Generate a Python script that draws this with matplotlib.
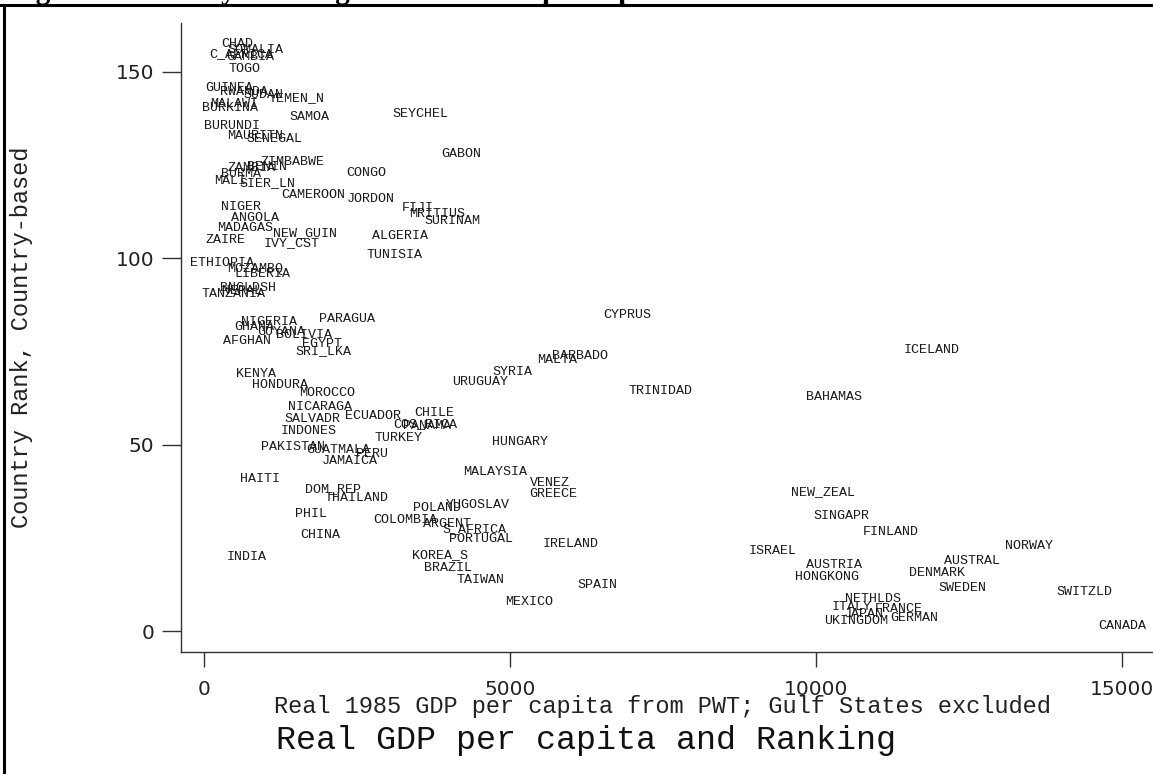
import matplotlib
matplotlib.use("Agg")
import matplotlib.pyplot as plt
from matplotlib.lines import Line2D

# country labels, real 1985 GDP per capita, country rank
countries = [
    "CHAD", "SOMALIA", "C_AFRICA", "GAMBIA", "TOGO", "GUINEA", "RWANDA", "SUDAN",
    "YEMEN_N", "MALAWI", "BURKINA", "SAMOA", "SEYCHEL", "BURUNDI", "MAURITN",
    "SENEGAL", "ZIMBABWE", "BENIN", "ZAMBIA", "BURMA", "MALI", "SIER_LN", "CONGO",
    "GABON", "CAMEROON", "JORDON", "FIJI", "MRITIUS", "SURINAM", "NIGER", "ANGOLA",
    "MADAGAS", "NEW_GUIN", "ZAIRE", "IVY_CST", "ALGERIA", "TUNISIA", "ETHIOPIA",
    "MOZAMBQ", "LIBERIA", "BNGLDSH", "NEPAL", "TANZANIA", "NIGERIA", "PARAGUA",
    "GHANA", "GUYANA", "BOLIVIA", "AFGHAN", "EGYPT", "SRI_LKA", "KENYA", "HONDURA",
    "MOROCCO", "SYRIA", "URUGUAY", "MALTA", "BARBADO", "CYPRUS", "TRINIDAD",
    "ICELAND", "BAHAMAS", "NICARAGA", "SALVADR", "ECUADOR", "CHILE", "COS_RICA",
    "PANAMA", "INDONES", "TURKEY", "PAKISTAN", "GUATMALA", "PERU", "JAMAICA",
    "HAITI", "DOM_REP", "THAILAND", "PHIL", "COLOMBIA", "CHINA", "INDIA", "POLAND",
    "YUGOSLAV", "ARGENT", "S_AFRICA", "PORTUGAL", "KOREA_S", "BRAZIL", "TAIWAN",
    "MEXICO", "SPAIN", "IRELAND", "HUNGARY", "MALAYSIA", "VENEZ", "GREECE",
    "NEW_ZEAL", "SINGAPR", "FINLAND", "ISRAEL", "NORWAY", "AUSTRAL", "AUSTRIA",
    "HONGKONG", "DENMARK", "SWEDEN", "SWITZLD", "NETHLDS", "ITALY", "FRANCE",
    "JAPAN", "GERMAN", "UKINGDOM", "CANADA",
]
gdp = [
    539, 833, 605, 752, 670, 409, 654, 964,
    1520, 490, 425, 1716, 3529, 458, 833,
    1144, 1438, 1029, 768, 605, 425, 1029, 2647,
    4199, 1781, 2729, 3497, 3807, 4052, 605, 833,
    670, 1650, 359, 1438, 3203, 3105, 294,
    833, 948, 719, 621, 474, 1062, 2337,
    817, 1258, 1634, 703, 1928, 1944, 850, 1242,
    2010, 5033, 4510, 5768, 6144, 6912, 7467,
    11896, 10294, 1895, 1765, 2761, 3758, 3611,
    3644, 1716, 3186, 1454, 2190, 2745, 2386,
    915, 2108, 2500, 1748, 3284, 1895, 703, 3807,
    4477, 3971, 4412, 4526, 3856, 3987, 4526,
    5311, 6422, 5997, 5163, 4755, 5654, 5703,
    10115, 10409, 11226, 9297, 13480, 12549, 10294,
    10180, 11977, 12386, 14379, 10931, 10588, 11356,
    10784, 11601, 10654, 15000,
]
rank = [
    158.0, 156.2, 155.1, 154.3, 151.1, 146.0, 144.9, 144.1,
    143.4, 141.9, 140.6, 138.4, 139.0, 136.0, 133.1,
    132.3, 126.1, 125.0, 124.5, 122.9, 121.0, 120.5, 123.2,
    128.3, 117.3, 116.2, 113.8, 112.4, 110.3, 114.1, 111.1,
    108.4, 107.1, 105.4, 104.4, 106.3, 101.4, 99.0,
    97.4, 96.1, 92.3, 91.5, 90.7, 83.4, 84.2,
    82.1, 80.5, 79.7, 78.3, 77.5, 75.4, 69.3, 66.3,
    64.4, 70.0, 67.3, 73.2, 74.3, 85.1, 64.9,
    75.9, 63.1, 60.4, 57.2, 58.0, 59.0, 55.8,
    55.3, 54.2, 52.1, 49.9, 49.1, 48.0, 45.9,
    41.1, 38.6, 36.0, 31.9, 30.3, 26.3, 20.4, 33.3,
    34.3, 29.0, 27.9, 25.2, 20.9, 17.2, 14.2,
    8.3, 12.9, 23.9, 51.2, 43.2, 40.0, 37.3,
    37.8, 31.4, 27.1, 22.0, 23.1, 19.3, 18.2,
    14.8, 16.1, 12.1, 11.0, 9.1, 7.0, 6.4,
    5.1, 4.0, 3.2, 1.9,
]
xticks = [0, 5000, 10000, 15000]
yticks = [0, 50, 100, 150]

W, H = 1153, 774
mono = "Liberation Mono"

fig = plt.figure(figsize=(W / 100, H / 100), dpi=100)
fig.patch.set_facecolor("white")

ax = fig.add_axes([181 / W, 1 - 652 / H, 1 - 181 / W, (652 - 23) / H])
for name, x, y in zip(countries, gdp, rank):
    ax.text(x, y, name, ha="center", va="center_baseline", family=mono,
            fontsize=9.6, color="#1a1a1a")

ax.set_xlim(-376, 15507)
ax.set_ylim(-5.6, 163.1)
ax.set_xticks(xticks)
ax.set_yticks(yticks)
for s in ["top", "right"]:
    ax.spines[s].set_visible(False)
for s in ["left", "bottom"]:
    ax.spines[s].set_color("#333333")
    ax.spines[s].set_linewidth(1.0)
ax.tick_params(axis="x", length=11, width=1, color="#333333", pad=9,
               labelsize=14.5, labelcolor="#222222")
ax.tick_params(axis="y", length=14, width=1, color="#333333", pad=5,
               labelsize=14.5, labelcolor="#222222")

fig.text(22 / W, 1 - 337 / H, "Country Rank, Country-based", rotation=90,
         ha="center", va="center", family=mono, fontsize=17, color="#222222")
fig.text(662 / W, 1 - 707 / H,
         "Real 1985 GDP per capita from PWT; Gulf States excluded",
         ha="center", va="center", family=mono, fontsize=17, color="#222222")
fig.text(276 / W, 1 - 741 / H, "Real GDP per capita and Ranking",
         ha="left", va="center", family=mono, fontsize=24, color="#111111")

# page caption cut off above, plus the frame of the page
fig.text(10 / W, 1 + 1 / H, "Figure 4: Country Ranking and Real GDP per capita",
         ha="left", va="baseline", family="Liberation Serif", fontweight="bold",
         fontsize=21, color="black")
fig.add_artist(Line2D([0, 1], [1 - 5 / H, 1 - 5 / H], transform=fig.transFigure,
                      color="black", lw=2.2))
fig.add_artist(Line2D([4 / W, 4 / W], [0, 1 - 5 / H], transform=fig.transFigure,
                      color="black", lw=2.2))

fig.savefig("out.png", dpi=100)
